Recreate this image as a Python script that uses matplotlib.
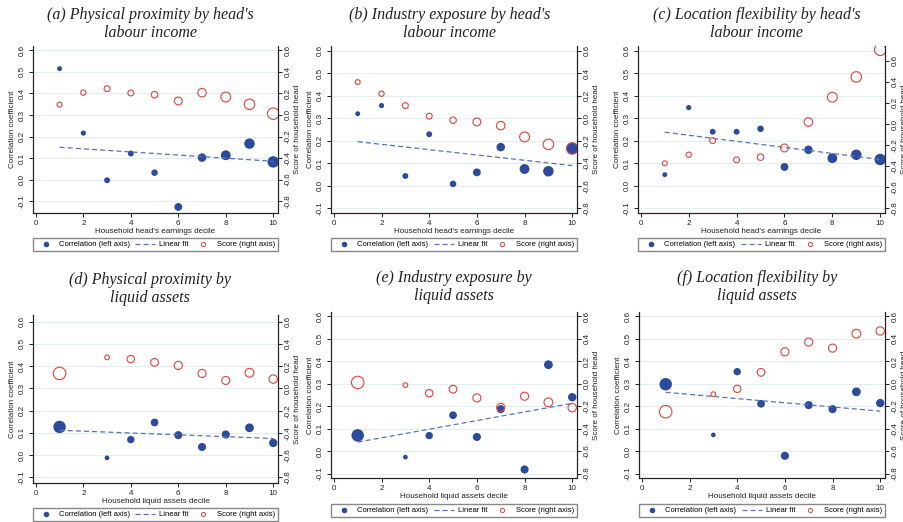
import matplotlib
matplotlib.use("Agg")
import matplotlib.pyplot as plt
from matplotlib.lines import Line2D
import numpy as np

plt.rcParams['font.family'] = ['Liberation Sans', 'DejaVu Sans']

# deciles
dec_earn = [1, 2, 3, 4, 5, 6, 7, 8, 9, 10]
dec_liq = [1, 3, 4, 5, 6, 7, 8, 9, 10]

# marker weights (share of obs, %)
wt_earn = [3.8, 4.3, 5.5, 5.5, 6.7, 9.7, 11.4, 15.2, 17.3, 20.7]
wt_liq = [24.4, 3.5, 8.6, 9.4, 10.3, 10.3, 10.3, 12.1, 11.1]

# correlation (left axis)
corr_a = [0.515, 0.216, -0.003, 0.121, 0.032, -0.127, 0.102, 0.113, 0.167, 0.082]
corr_b = [0.320, 0.356, 0.044, 0.229, 0.009, 0.060, 0.172, 0.075, 0.065, 0.166]
corr_c = [0.050, 0.347, 0.240, 0.240, 0.253, 0.084, 0.160, 0.123, 0.138, 0.117]
corr_d = [0.127, -0.012, 0.070, 0.147, 0.090, 0.037, 0.093, 0.123, 0.055]
corr_e = [0.070, -0.027, 0.069, 0.160, 0.063, 0.187, -0.082, 0.385, 0.240]
corr_f = [0.298, 0.072, 0.354, 0.211, -0.021, 0.205, 0.187, 0.264, 0.214]

# score of household head (right axis)
score_a = [0.096, 0.207, 0.244, 0.204, 0.188, 0.130, 0.207, 0.167, 0.099, 0.012]
score_b = [0.320, 0.217, 0.112, 0.018, -0.018, -0.033, -0.066, -0.166, -0.232, -0.268]
score_c = [-0.372, -0.291, -0.157, -0.340, -0.314, -0.227, 0.019, 0.254, 0.446, 0.703]
score_d = [0.135, 0.279, 0.264, 0.234, 0.207, 0.135, 0.072, 0.141, 0.084]
score_e = [0.012, -0.012, -0.084, -0.048, -0.126, -0.210, -0.111, -0.165, -0.213]
score_f = [-0.249, -0.093, -0.045, 0.102, 0.285, 0.372, 0.318, 0.447, 0.471]

# linear fit of correlation, value at decile 1 and decile 10
fit_x = [1, 10]
fit_a = [0.150, 0.085]
fit_b = [0.196, 0.090]
fit_c = [0.238, 0.117]
fit_d = [0.112, 0.075]
fit_e = [0.040, 0.213]
fit_f = [0.262, 0.178]

titles = ["(a) Physical proximity by head's\nlabour income",
          "(b) Industry exposure by head's\nlabour income",
          "(c) Location flexibility by head's\nlabour income",
          "(d) Physical proximity by\nliquid assets",
          "(e) Industry exposure by\nliquid assets",
          "(f) Location flexibility by\nliquid assets"]

W, H = 904, 522
BLUE = '#2c4a9e'
RED = '#e8413c'
FIT = '#5872c2'
GRID = '#e2eeef'

fig = plt.figure(figsize=(W / 100, H / 100), dpi=100)


def rect(x0, y0, x1, y1):
    return [x0 / W, 1 - y1 / H, (x1 - x0) / W, (y1 - y0) / H]


def panel(box, x, w, corr, score, fit, title, tx, ty, xlab, ylim, ylim2, leg):
    ax = fig.add_axes(rect(*box))
    ax2 = ax.twinx()
    s = np.array(w) * 3.3
    ax.scatter(x, corr, s=s, color=BLUE, linewidths=0, zorder=3)
    ax.plot(fit_x, fit, color=FIT, lw=0.9, ls=(0, (4, 2.5)), zorder=4)
    ax2.scatter(x, score, s=s, facecolors='none', edgecolors=RED, linewidths=0.8, zorder=3)
    ax.set_xlim(-0.12, 10.2)
    ax.set_ylim(*ylim)
    ax2.set_ylim(*ylim2)
    ax.set_xticks([0, 2, 4, 6, 8, 10])
    ax.set_yticks(np.round(np.arange(-0.1, 0.61, 0.1), 1))
    ax.set_yticklabels(['-0.1', '0.0', '0.1', '0.2', '0.3', '0.4', '0.5', '0.6'])
    ax2.set_yticks(np.round(np.arange(-0.8, 0.61, 0.2), 1))
    ax2.set_yticklabels(['-0.8', '-0.6', '-0.4', '-0.2', '0.0', '0.2', '0.4', '0.6'])
    ax.grid(axis='y', color=GRID, lw=0.8)
    ax.set_axisbelow(True)
    for a in (ax, ax2):
        a.spines['top'].set_visible(False)
        for sp in ('left', 'right', 'bottom'):
            a.spines[sp].set_linewidth(0.8)
            a.spines[sp].set_color('#222222')
        a.tick_params(labelsize=5.8, length=3, width=0.7, pad=2, colors='#222222')
    ax.tick_params(axis='y', labelrotation=90)
    ax2.tick_params(axis='y', labelrotation=90)
    for t in ax.get_yticklabels() + ax2.get_yticklabels():
        t.set_va('center')
    ax.set_xlabel(xlab, fontsize=5.8, labelpad=1, color='#222222')
    ax.set_ylabel('Correlation coefficient', fontsize=5.8, labelpad=2, color='#222222')
    ax2.set_ylabel('Score of household head', fontsize=5.8, labelpad=1.5, color='#222222')
    fig.text(tx / W, 1 - ty / H, title, ha='center', va='center', fontsize=11.5,
             family='Liberation Serif', style='italic', linespacing=1.15, color='#222222')
    handles = [Line2D([], [], ls='none', marker='o', ms=3, color=BLUE),
               Line2D([], [], color=FIT, lw=0.9, ls=(0, (4, 2.5))),
               Line2D([], [], ls='none', marker='o', ms=3, mfc='none', mec=RED, mew=0.7)]
    labels = ['Correlation (left axis)', 'Linear fit', 'Score (right axis)']
    lx0, ly0, lx1, ly1 = leg
    ax.legend(handles, labels, loc='lower left', mode='expand', ncol=3,
              bbox_to_anchor=(lx0 / W, 1 - ly1 / H, (lx1 - lx0) / W, (ly1 - ly0) / H),
              bbox_transform=fig.transFigure, fontsize=5.5, frameon=True, fancybox=False,
              edgecolor='#888888', borderaxespad=0, handlelength=2.6, handletextpad=0.5,
              borderpad=0.35, columnspacing=1.0, framealpha=1)
    return ax


xe = "Household head's earnings decile"
xl = "Household liquid assets decile"

panel((33, 46, 278, 213), dec_earn, wt_earn, corr_a, score_a, fit_a, titles[0], 150, 24, xe,
      (-0.155, 0.62), (-0.91, 0.64), (33, 237, 278, 251))
panel((331, 46, 577, 213), dec_earn, wt_earn, corr_b, score_b, fit_b, titles[1], 450, 24, xe,
      (-0.12, 0.62), (-0.84, 0.64), (331, 237, 577, 251))
panel((638, 46, 885, 213), dec_earn, wt_earn, corr_c, score_c, fit_c, titles[2], 757, 24, xe,
      (-0.12, 0.62), (-0.843, 0.739), (638, 237, 885, 251))
panel((33, 315, 278, 483), dec_liq, wt_liq, corr_d, score_d, fit_d, titles[3], 150, 289, xl,
      (-0.125, 0.63), (-0.85, 0.66), (33, 507, 278, 521))
panel((331, 312, 577, 478), dec_liq, wt_liq, corr_e, score_e, fit_e, titles[4], 454, 287, xl,
      (-0.12, 0.62), (-0.84, 0.64), (331, 503, 577, 517))
panel((639, 312, 885, 478), dec_liq, wt_liq, corr_f, score_f, fit_f, titles[5], 757, 287, xl,
      (-0.12, 0.62), (-0.84, 0.64), (639, 503, 885, 517))

fig.savefig('out.png', dpi=100)
